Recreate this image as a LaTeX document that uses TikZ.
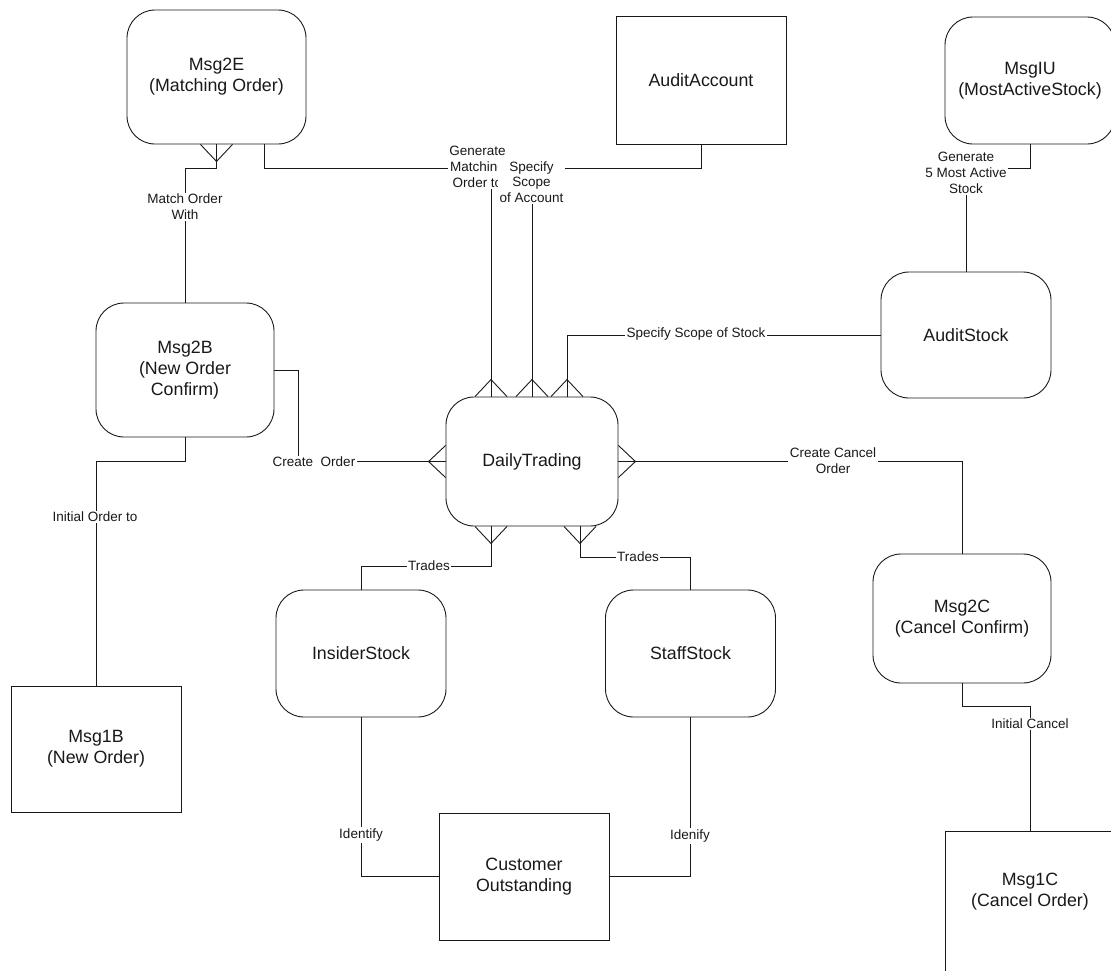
\documentclass[tikz,border=0pt]{standalone}
\usepackage{fontspec}
\setmainfont{Liberation Sans}
\usetikzlibrary{calc}

\newcommand{\boxfont}{\fontsize{17.8}{21}\selectfont}
\newcommand{\relfont}{\fontsize{13.5}{15.7}\selectfont}
% many-end of a relationship: point on the box, rotation
\newcommand{\crowfoot}[2]{\draw[shift={#1}, rotate=#2] (-16,0) -- (0,17) -- (16,0);}

\begin{document}
\begin{tikzpicture}[x=1pt, y=-1pt, line width=0.9pt, color=black!90,
    entity/.style={draw, rounded corners=28pt, minimum width=170pt, minimum height=127pt,
        inner sep=0pt, align=center, font=\boxfont},
    record/.style={draw, minimum width=170pt, minimum height=127pt,
        inner sep=0pt, align=center, font=\boxfont},
    boxtext/.style={inner sep=0pt, align=center, font=\boxfont},
    rel/.style={fill=white, inner sep=1.5pt, align=center, font=\relfont}]
        \clip (0,0) rectangle (1111,970);

        % Entities
        \node[entity, minimum width=179pt, minimum height=134pt] (m2e) at (216.5,77) {Msg2E\\(Matching Order)};
        \node[record, minimum height=128pt] (aa) at (701,80) {AuditAccount};
        \node[entity] (miu) at (1030,80.5) {MsgIU\\(MostActiveStock)};
        \node[entity, minimum width=178pt, minimum height=134pt] (m2b) at (185,370) {Msg2B\\(New Order\\Confirm)};
        \node[entity, minimum height=126pt] (as) at (966,335) {AuditStock};
        \node[entity, minimum width=172pt, minimum height=129pt] (dt) at (532,461.5) {DailyTrading};
        \node[entity, minimum width=178pt, minimum height=129pt] (m2c) at (962,618.5) {Msg2C\\(Cancel Confirm)};
        \node[entity] (ins) at (361,653.5) {InsiderStock};
        \node[entity] (stf) at (690.5,653.5) {StaffStock};
        \node[record, minimum height=126pt] (m1b) at (96,749) {Msg1B\\(New Order)};
        \node[record] (co) at (524,876.5) {Customer\\Outstanding};
        \node[record, minimum height=180pt, anchor=north] (m1c) at (1030,831) {};
        \node[boxtext] (m1ctext) at (1030,892) {Msg1C\\(Cancel Order)};

        % Relationships
        \draw (m2e.south) -- ++(0,24) -| (m2b.north);
        \draw (m2e.south -| 264,0) |- (491,168) -- (dt.north -| 491,0);
        \draw (aa.south) -- ++(0,24) -| (dt.north);
        \draw (as.west) -| (dt.north -| 567,0);
        \draw (miu.south) -- ++(0,24) -| (as.north);
        \draw (m2b.east) -- ++(24,0) |- (dt.west);
        \draw (dt.east) -| (m2c.north);
        \draw (m2b.south) -- ++(0,24) -| (m1b.north);
        \draw (dt.south -| 491,0) -- (491,566) -| (ins.north);
        \draw (dt.south -| 580,0) -- (580,557) -| (stf.north);
        \draw (ins.south) |- (co.west);
        \draw (stf.south) |- (co.east);
        \draw (m2c.south) -- ++(0,23) -| (m1c.north);

        % Crow's feet
        \crowfoot{(m2e.south)}{0}
        \crowfoot{(dt.north -| 491,0)}{180}
        \crowfoot{(dt.north)}{180}
        \crowfoot{(dt.north -| 567,0)}{180}
        \crowfoot{(dt.west)}{-90}
        \crowfoot{(dt.east)}{90}
        \crowfoot{(dt.south -| 491,0)}{0}
        \crowfoot{(dt.south -| 580,0)}{0}

        % Labels
        \node[rel] (lmatch) at (185,207) {Match Order\\With};
        \node[rel] (lgen) at (477.5,167) {Generate\\Matching\\Order to};
        \node[rel] (lscopeacc) at (531.5,182) {Specify\\Scope\\of Account};
        \node[rel] (lscopestk) at (696,334) {Specify Scope of Stock};
        \node[rel] (lgenact) at (966,173) {Generate\\5 Most Active\\Stock};
        \node[rel] (lcreate) at (314,462) {Create\ \ Order};
        \node[rel] (lcancel) at (833,461) {Create Cancel\\Order};
        \node[rel] (linit) at (95,517) {Initial Order to};
        \node[rel] (ltradesl) at (429,566) {Trades};
        \node[rel] (ltradesr) at (638,557) {Trades};
        \node[rel] (lidl) at (361,835) {Identify};
        \node[rel] (lidr) at (690,836) {Idenify};
        \node[rel] (linitc) at (1030,724) {Initial Cancel};
    \end{tikzpicture}
\end{document}
